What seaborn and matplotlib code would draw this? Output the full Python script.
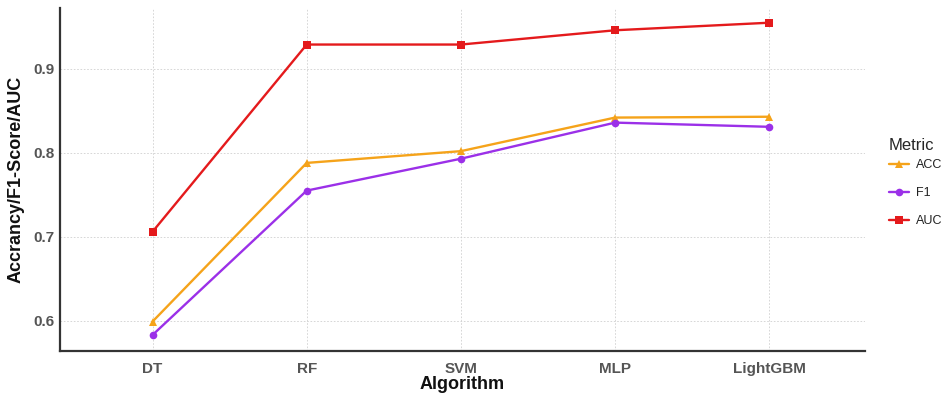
import pandas as pd
import matplotlib
matplotlib.use("Agg")
import matplotlib.pyplot as plt
import seaborn as sns

# data
algorithms = ["DT", "RF", "SVM", "MLP", "LightGBM"]
acc = [0.599, 0.788, 0.802, 0.842, 0.843]
f1 = [0.583, 0.755, 0.793, 0.836, 0.831]
auc = [0.706, 0.929, 0.929, 0.946, 0.955]
metrics = ["ACC", "F1", "AUC"]
palette = {"ACC": "#F5A31A", "F1": "#9B30E8", "AUC": "#E41A1C"}
markers = {"ACC": "^", "F1": "o", "AUC": "s"}

rows = []
for name, vals in zip(metrics, [acc, f1, auc]):
    for i, (alg, v) in enumerate(zip(algorithms, vals)):
        rows.append({"Algorithm": alg, "pos": i, "Metric": name, "value": v})
df = pd.DataFrame(rows)

sns.set_theme(style="white")
plt.rcParams["font.family"] = ["Liberation Sans", "DejaVu Sans"]

fig = plt.figure(figsize=(9.48, 3.97), dpi=100)
ax = fig.add_axes([0.0633, 0.116, 0.849, 0.864])

sns.lineplot(data=df, x="pos", y="value", hue="Metric", style="Metric",
             hue_order=metrics, style_order=metrics, palette=palette,
             markers=markers, dashes=False, linewidth=1.7, markersize=5.5,
             markeredgewidth=0, ax=ax)

ax.set_xlim(-0.6, 4.62)
ax.set_ylim(0.564, 0.9726)
ax.set_xticks(range(len(algorithms)))
ax.set_xticklabels(algorithms)
ax.set_yticks([0.6, 0.7, 0.8, 0.9])
ax.set_yticklabels(["0.6", "0.7", "0.8", "0.9"])
ax.grid(True, color="#d0d0d0", linestyle=(0, (2, 2)), linewidth=0.6)
ax.tick_params(axis="x", length=0, labelsize=11, labelcolor="#555555", pad=8)
ax.tick_params(axis="y", length=0, labelsize=11, labelcolor="#555555", pad=4)
for lab in ax.get_xticklabels() + ax.get_yticklabels():
    lab.set_fontweight("bold")

ax.set_xlabel("Algorithm", fontsize=13, fontweight="bold", color="#111111", labelpad=0)
ax.set_ylabel("Accrancy/F1-Score/AUC", fontsize=13, fontweight="bold", color="#111111", labelpad=6)

for side in ["top", "right"]:
    ax.spines[side].set_visible(False)
for side in ["left", "bottom"]:
    ax.spines[side].set_color("#333333")
    ax.spines[side].set_linewidth(1.6)

leg = ax.legend(title="Metric", loc="center left", bbox_to_anchor=(1.017, 0.49),
                frameon=False, fontsize=9, title_fontsize=12,
                handlelength=1.6, handletextpad=0.6, labelspacing=1.3,
                borderaxespad=0.4)
leg._legend_box.align = "left"
leg._legend_box.sep = 4
for t in leg.get_texts():
    t.set_color("#222222")

fig.savefig("out.png", dpi=100)
